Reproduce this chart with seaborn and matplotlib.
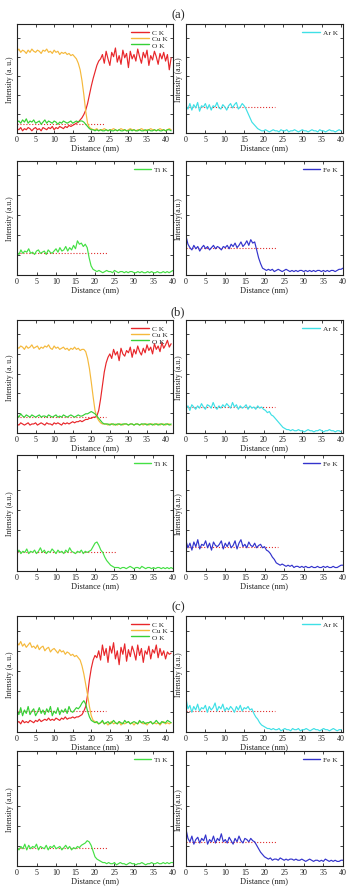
import numpy as np
import matplotlib
matplotlib.use("Agg")
import matplotlib.pyplot as plt
import matplotlib.ticker as ticker
import seaborn as sns

sns.set_theme(style="ticks")
plt.rcParams['font.family'] = ['Liberation Serif', 'DejaVu Serif']

# Distance grids (nm)
dist_wide = np.arange(0, 42, 0.5)    # 84 points, C/Cu/O profiles
dist_std = np.arange(0, 40.5, 0.5)   # 81 points, Ar/Ti/Fe profiles

# ---- (a) intensities, % of axis height ----
a_cu = [75,77,74,76,75,73,76,74,77,75,74,76,75,73,76,75,77,74,75,73,76,74,75,72,74,
        73,74,72,73,71,72,70,68,
        64,58,48,35,20,9,5,
        4,3,3,4,2,3,3,4,3,2,3,3,4,3,2,3,4,3,3,2,3,4,3,3,2,3,3,4,3,2,3,3,4,3,3,2,3,4,3,3,2,3,4,3]
a_c = [4,3,5,2,4,3,5,4,2,4,5,3,4,2,5,4,3,5,4,6,3,5,4,6,5,4,6,5,7,6,7,
       8,9,10,12,14,17,21,27,35,43,50,56,62,66,68,
       72,64,75,68,62,74,70,78,65,71,63,76,69,73,60,75,68,72,66,77,70,64,74,69,76,62,71,67,75,70,63,73,68,74,66,72,58,69]
a_o = [10,11,9,12,10,13,9,11,10,12,9,10,11,8,10,12,9,11,10,9,11,10,8,10,9,11,10,9,10,11,9,10,11,10,11,
       11,10,8,6,4,3,
       3,2,3,2,3,2,2,3,2,3,2,2,3,2,3,2,2,3,2,2,3,2,3,2,2,3,2,2,3,2,3,2,2,3,2,3,2,2,3,2,3,3,2]
a_ar = [25,22,27,21,26,23,28,20,25,24,27,22,26,21,25,24,28,23,22,26,24,21,25,27,23,26,28,22,24,27,25,
        22,18,14,10,8,6,4,3,2,
        2,3,2,1,2,3,2,2,1,3,2,2,3,1,2,2,3,2,1,2,3,2,2,1,2,3,2,2,1,3,2,2,1,2,3,2,2,1,2,3,2]
a_ti = [20,18,22,19,21,20,23,19,20,18,21,22,19,20,21,18,22,20,19,21,
        23,20,24,21,22,25,21,24,22,26,23,
        30,27,28,25,27,24,
        15,8,5,4,
        3,4,3,2,3,4,3,3,2,4,3,2,3,3,2,3,2,3,3,2,2,3,2,3,2,2,3,2,3,2,2,3,2,2,3,2,3,2,3,4]
a_fe = [34,27,24,22,26,23,25,21,24,26,23,25,22,24,26,23,25,24,22,25,
        24,26,23,27,25,28,24,26,29,25,27,30,26,31,28,29,
        22,15,10,6,5,4,
        5,4,5,3,4,5,4,3,4,5,4,3,4,3,4,3,4,4,3,4,3,4,3,4,3,4,4,3,4,3,4,3,4,4,3,4,5,5,6]

# ---- (b) ----
b_cu = [76,75,77,76,74,77,75,76,78,75,76,77,74,76,75,77,76,78,75,74,77,75,76,74,75,76,74,75,73,75,74,76,74,75,73,74,74,
        72,66,57,45,32,20,14,11,9,8,
        8,8,7,8,8,7,8,7,8,8,7,8,8,7,8,8,7,8,8,7,8,7,8,8,7,8,8,7,8,8,7,8,8,7,8,8,7]
b_c = [8,7,9,8,7,8,9,7,8,8,9,7,8,9,8,7,9,8,8,7,9,8,9,8,7,9,8,9,8,9,10,9,
       10,10,11,10,11,12,12,13,13,14,14,15,
       20,30,42,54,62,67,
       70,66,74,69,72,64,75,70,68,73,71,76,67,74,70,77,72,69,75,71,78,73,76,70,79,74,77,72,80,75,78,82,76,79]
b_o = [16,14,17,15,14,16,15,14,16,15,14,15,16,14,15,15,14,16,15,14,15,16,14,15,14,16,15,14,15,16,15,14,15,16,15,15,16,17,17,18,
       19,18,17,15,13,11,9,8,8,
       8,7,8,8,7,8,8,7,8,8,8,7,8,8,7,8,8,7,8,8,8,7,8,8,7,8,8,7,8,8,7,8,8,7,8]
b_ar = [22,24,20,25,23,21,24,22,26,23,21,25,24,22,27,23,21,24,22,25,23,26,24,22,27,23,25,21,24,22,23,25,21,24,22,23,21,24,22,23,
        21,20,18,19,16,15,13,11,9,7,5,4,3,
        3,2,3,2,2,3,2,2,1,2,3,2,2,1,2,2,3,2,1,2,2,3,2,2,1,2,2,1]
b_ti = [16,18,15,17,16,19,15,17,16,18,15,17,20,16,18,15,17,16,19,17,15,18,16,17,15,18,16,20,17,16,15,17,16,18,15,17,16,17,18,
        21,24,25,22,18,16,
        12,9,7,5,4,3,3,
        3,2,3,3,2,3,4,3,2,3,3,2,4,3,2,3,3,2,3,2,3,3,2,3,2,3,2,3,2]
b_fe = [26,20,24,18,25,21,27,19,23,22,26,20,24,18,25,22,21,23,26,19,24,21,25,20,22,26,19,24,27,21,23,20,25,22,21,24,20,22,23,
        20,21,18,17,15,12,10,7,6,5,
        6,5,4,5,4,5,3,4,4,3,4,3,4,3,3,4,3,3,4,3,3,4,3,4,3,3,4,3,3,4,5,5]

# ---- (c) ----
c_cu = [77,75,78,74,76,73,75,77,73,74,72,75,71,73,74,70,72,73,69,71,72,70,68,71,69,70,67,69,68,66,67,65,66,64,
        62,57,50,41,32,22,14,10,9,
        8,7,8,9,7,8,6,8,9,7,8,7,9,6,8,7,8,9,7,8,6,8,7,9,8,7,8,6,8,9,7,8,7,8,6,8,9,7,8,7,8]
c_c = [8,9,7,10,8,9,8,10,9,8,10,9,11,9,10,11,10,12,10,11,10,12,11,10,12,11,13,11,12,12,13,12,13,13,14,
       15,18,22,32,45,55,62,66,64,
       70,62,75,66,72,60,74,68,77,63,70,58,73,67,76,61,71,65,74,69,62,75,66,72,60,70,67,74,63,71,68,75,64,72,66,70,63,69,67,68]
c_o = [18,15,21,14,19,16,22,15,18,20,14,17,21,16,19,15,20,17,22,14,18,16,21,15,19,17,20,16,22,18,17,19,21,20,
       22,25,27,24,18,13,10,9,
       8,9,7,8,10,7,8,9,7,8,10,8,7,9,8,7,10,8,9,7,8,9,8,7,10,8,9,7,8,8,9,7,8,10,8,7,9,8,8,10,9,8]
c_ar = [29,20,23,17,22,19,24,18,21,20,23,17,22,19,21,25,18,22,20,24,18,21,19,22,20,17,22,19,23,18,21,20,22,19,20,
        16,13,11,8,6,5,4,3,3,
        2,3,2,2,3,1,2,3,2,2,1,3,2,2,3,1,2,2,3,2,1,2,3,2,2,1,2,3,2,2,1,2,3,2,1,2,2]
c_ti = [16,14,17,15,19,14,18,15,17,16,19,14,17,16,15,18,14,17,16,18,15,16,17,14,16,18,15,17,14,16,15,17,16,18,19,
        20,22,21,18,13,
        8,6,5,4,3,
        3,2,3,2,2,3,1,2,3,2,2,1,2,3,2,2,1,2,2,3,2,1,2,2,3,2,2,3,2,2,3,2,3,2,3,3]
c_fe = [32,24,21,26,19,23,25,20,24,22,27,19,23,21,26,20,24,22,28,21,23,20,25,22,19,24,21,26,22,20,24,23,21,24,22,
        21,18,15,12,10,8,7,
        6,7,5,6,6,5,7,6,5,6,5,6,6,5,6,5,5,6,5,4,5,6,5,4,5,5,4,5,4,6,5,4,5,4,5,4,4,5,5]

# red dotted reference levels (%) and their end (nm): left, Ar, Ti, Fe
ref_levels = {'a': [8.3, 23.5, 19, 23.5], 'b': [14, 23, 16.5, 21], 'c': [18, 18, 15.5, 20.5]}
ref_ends = {'a': [23.6, 23, 23, 23], 'b': [24, 23, 25.5, 23.5], 'c': [24, 23, 23, 23]}

panels = {
    'a': dict(cu=a_cu, c=a_c, o=a_o, ar=a_ar, ti=a_ti, fe=a_fe),
    'b': dict(cu=b_cu, c=b_c, o=b_o, ar=b_ar, ti=b_ti, fe=b_fe),
    'c': dict(cu=c_cu, c=c_c, o=c_o, ar=c_ar, ti=c_ti, fe=c_fe),
}

col_c = '#e8262a'
col_cu = '#f5b93c'
col_o = '#36d036'
col_ar = '#3fe0e6'
col_ti = '#44e044'
col_fe = '#3333cc'
col_ref = '#e03030'
LW = 0.85

W, H = 351, 887
fig = plt.figure(figsize=(W / 100, H / 100), dpi=100)

# row pixel (top, bottom) and title y
rows = {'a': [(25, 134), (162, 276), 15],
        'b': [(321, 434), (456, 572), 312],
        'c': [(617, 733), (752, 867), 607]}
cols = [(17, 173), (186, 343)]


def make_ax(col, row):
    x0, x1 = cols[col]
    y0, y1 = row
    return fig.add_axes([x0 / W, 1 - y1 / H, (x1 - x0) / W, (y1 - y0) / H])


def style(ax, xmax, ylab):
    ax.set_xlim(0, xmax)
    ax.set_ylim(0, 100)
    ax.xaxis.set_major_locator(ticker.MultipleLocator(5))
    ax.yaxis.set_major_locator(ticker.MultipleLocator(17.5))
    ax.tick_params(direction='in', length=2.2, width=0.6, top=True, right=True,
                   labelsize=5.8, pad=1.5, colors='#222222')
    ax.tick_params(axis='y', labelleft=False)
    for s in ax.spines.values():
        s.set_linewidth(0.8)
        s.set_color('#222222')
    ax.set_xlabel('Distance (nm)', fontsize=6, labelpad=0, color='#222222')
    ax.set_ylabel(ylab, fontsize=5.5, labelpad=2, color='#222222')
    leg = ax.legend(loc='upper right', frameon=False, fontsize=5.3, handlelength=2.4,
                    handletextpad=0.4, labelspacing=0.0, borderaxespad=0.3)
    for h in leg.get_lines():
        h.set_linewidth(1.0)


def ref(ax, level, end):
    ax.plot([0, end], [level, level], ls=':', color=col_ref, lw=0.8)


for key, d in panels.items():
    top, bot, ty = rows[key]
    fig.text(178 / W, 1 - ty / H, '(%s)' % key, ha='center', va='center', fontsize=9)
    lv, en = ref_levels[key], ref_ends[key]

    ax = make_ax(0, top)
    ref(ax, lv[0], en[0])
    sns.lineplot(x=dist_wide, y=d['c'], ax=ax, color=col_c, lw=LW, label='C K')
    sns.lineplot(x=dist_wide, y=d['cu'], ax=ax, color=col_cu, lw=LW, label='Cu K')
    sns.lineplot(x=dist_wide, y=d['o'], ax=ax, color=col_o, lw=LW, label='O K')
    style(ax, 42, 'Intensity (a. u.)')

    ax = make_ax(1, top)
    ref(ax, lv[1], en[1])
    sns.lineplot(x=dist_std, y=d['ar'], ax=ax, color=col_ar, lw=LW, label='Ar K')
    style(ax, 40.5, 'Intensity (a.u.)')

    ax = make_ax(0, bot)
    ref(ax, lv[2], en[2])
    sns.lineplot(x=dist_std, y=d['ti'], ax=ax, color=col_ti, lw=LW, label='Ti K')
    style(ax, 40, 'Intensity (a.u.)')

    ax = make_ax(1, bot)
    ref(ax, lv[3], en[3])
    sns.lineplot(x=dist_std, y=d['fe'], ax=ax, color=col_fe, lw=LW, label='Fe K')
    style(ax, 40, 'Intensity(a.u.)')

fig.savefig('out.png', dpi=100)
